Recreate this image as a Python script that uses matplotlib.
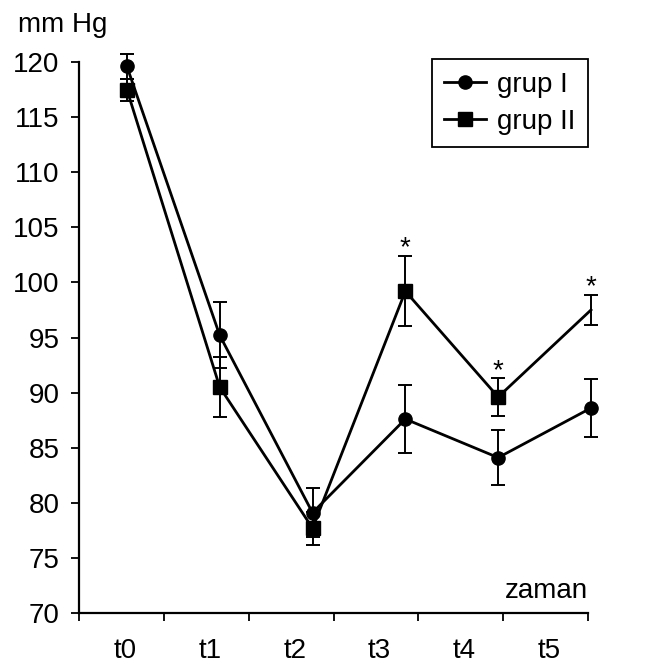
import matplotlib
matplotlib.use("Agg")
import matplotlib.pyplot as plt
from matplotlib.lines import Line2D
import numpy as np

plt.rcParams['font.family'] = ['Liberation Sans', 'DejaVu Sans']

# ---- data ----
categories = ["t0", "t1", "t2", "t3", "t4", "t5"]
grup1 = [119.6, 95.2, 79.1, 87.6, 84.1, 88.6]
grup1_err = [1.1, 3.0, 2.2, 3.1, 2.5, 2.6]
grup2 = [117.5, 90.5, 77.7, 99.2, 89.6, 97.5]
grup2_err = [1.0, 2.7, 1.5, 3.2, 1.7, 1.4]
signif2 = [False, False, False, True, True, True]
yticks = [70, 75, 80, 85, 90, 95, 100, 105, 110, 115, 120]

# ---- layout ----
W, H = 652, 666
FS = 20
fig = plt.figure(figsize=(W / 100, H / 100), dpi=100)
ax = fig.add_axes([79 / W, 53 / H, (588 - 79) / W, 551 / H])

x = np.arange(len(categories))
cat_w = 85 / 93.0         # category band width relative to point spacing
x0 = -0.516               # left edge of axis in point units

kw = dict(color='black', lw=2.0, elinewidth=1.4, capsize=5, capthick=1.4,
          clip_on=False, zorder=3)
ax.errorbar(x, grup1, yerr=grup1_err, marker='o', ms=9.5, **kw)
ax.errorbar(x, grup2, yerr=grup2_err, marker='s', ms=9.5,
            markevery=slice(0, len(categories) - 1), **kw)

for xi, v, e, s in zip(x, grup2, grup2_err, signif2):
    if s:
        ax.annotate('*', (xi, v + e), xytext=(0, -4), textcoords='offset points',
                    ha='center', va='bottom', fontsize=20, annotation_clip=False)

ax.set_ylim(70, 120)
ax.set_xlim(x0, x0 + cat_w * len(categories))
ax.set_yticks(yticks)
ax.tick_params(axis='y', direction='out', length=6, width=1.3, labelsize=FS, pad=8)

# boundary ticks on x axis, labels centred in bands
bounds = x0 + cat_w * np.arange(len(categories) + 1)
centres = x0 + cat_w * (np.arange(len(categories)) + 0.5) + 0.04
ax.set_xticks(bounds)
ax.set_xticklabels([''] * len(bounds))
ax.set_xticks(centres, minor=True)
ax.set_xticklabels(categories, minor=True)
ax.tick_params(axis='x', which='major', direction='out', length=6, width=1.3)
ax.tick_params(axis='x', which='minor', length=0, labelsize=FS, pad=18)

for s in ['top', 'right']:
    ax.spines[s].set_visible(False)
for s in ['left', 'bottom']:
    ax.spines[s].set_linewidth(1.6)

fig.text(18 / W, 1 - 25 / H, "mm Hg", fontsize=FS, ha='left', va='center')
ax.text(1.0, 71.4, "zaman", transform=ax.get_yaxis_transform(), fontsize=FS,
        ha='right', va='baseline')

h1 = Line2D([], [], color='black', lw=2.0, marker='o', ms=9.5)
h2 = Line2D([], [], color='black', lw=2.0, marker='s', ms=9.5)
leg = ax.legend([h1, h2], ["grup I", "grup II"], loc='upper right',
                bbox_to_anchor=(588 / W, 1 - 59 / H), bbox_transform=fig.transFigure,
                borderaxespad=0, fontsize=FS, handlelength=1.5, labelspacing=0.4,
                fancybox=False, framealpha=1, edgecolor='black', borderpad=0.45,
                handletextpad=0.4)
leg.get_frame().set_linewidth(1.3)

fig.savefig("out.png", dpi=100)
